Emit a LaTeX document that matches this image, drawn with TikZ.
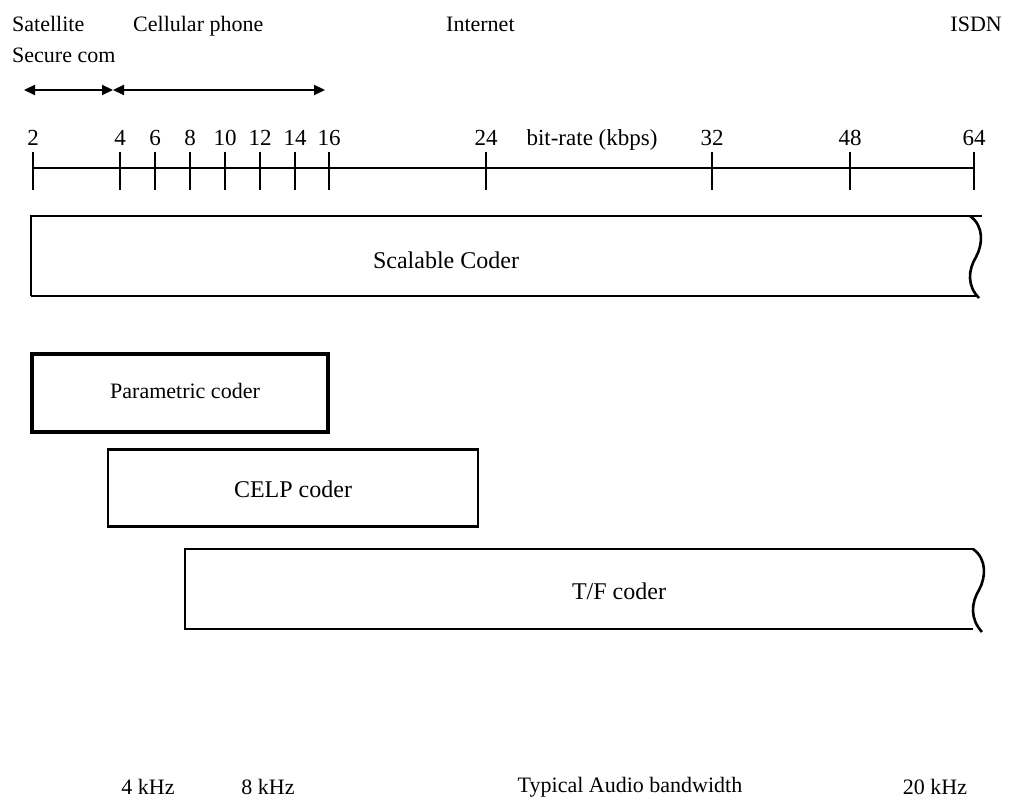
\documentclass[tikz,border=0pt]{standalone}
\usepackage{fontspec}
\setmainfont{Liberation Serif}
\usetikzlibrary{arrows.meta}
\begin{document}
\begin{tikzpicture}[x=1pt,y=-1pt,
  lbl/.style={inner sep=0pt,font=\fontsize{22}{26}\selectfont},
  numlbl/.style={inner sep=0pt,font=\fontsize{23}{27}\selectfont},
  boxtxt/.style={inner sep=0pt,font=\fontsize{24}{28}\selectfont},
  codebox/.style={draw,line width=2.6pt,inner sep=0pt},
  edge/.style={line width=2.6pt},
  axisline/.style={line width=2.8pt},
  tickline/.style={line width=2.6pt},
  rng/.style={line width=2.2pt,{Triangle[length=11pt,width=10pt]}-{Triangle[length=11pt,width=10pt]}}]
\useasboundingbox (0,0) rectangle (1009,799);
% top application labels
\node[lbl,anchor=base west] (sat) at (12,32) {Satellite};
\node[lbl,anchor=base west] (sec) at (12,63) {Secure com};
\node[lbl,anchor=base west] (cell) at (133,32) {Cellular phone};
\node[lbl,anchor=base west] (inet) at (446,32) {Internet};
\node[lbl,anchor=base east] (isdn) at (1002,32) {ISDN};
% ranges
\coordinate (r0) at (24,90);
\coordinate (r1) at (113,90);
\coordinate (r2) at (325,90);
\draw[rng] (r0) -- (r1);
\draw[rng] (r1) -- (r2);
% axis
\coordinate (a0) at (33,168);
\coordinate (a1) at (974,168);
\draw[axisline] (a0) -- (a1);
\foreach \v/\x in {2/33,4/120,6/155,8/190,10/225,12/260,14/295,16/329,24/486,32/712,48/850,64/974}{
  \coordinate (t\v) at (\x,168);
  \draw[tickline] ([yshift=16pt]t\v) -- ([yshift=-22pt]t\v);
  \node[numlbl,anchor=base] (n\v) at (\x,146) {\v};
}
\node[numlbl,anchor=base] (br) at (592,146) {bit-rate (kbps)};
% scalable coder
\draw[edge] (31,296) -- (31,216) -- (982,216);
\draw[edge] (31,296) -- (978,296);
\draw[edge] (970,216) .. controls (984,226) and (983,244) .. (976,257) .. controls (968,270) and (967,286) .. (979,298);
\node[boxtxt] (scal) at (446,260) {Scalable Coder};
% parametric
\node[codebox,line width=3.2pt,minimum width=296pt,minimum height=78pt] (par) at (180,393) {};
\node[boxtxt,font=\fontsize{22}{26}\selectfont] (part) at (185,391) {Parametric coder};
% CELP
\node[codebox,minimum width=370pt,minimum height=77pt] (celp) at (293,488) {};
\node[boxtxt] (celpt) at (293,489) {CELP coder};
% T/F
\draw[edge] (974,549) -- (185,549) -- (185,629) -- (973,629);
\draw[edge] (973,549) .. controls (987,559) and (986,577) .. (979,590) .. controls (971,603) and (970,619) .. (982,632);
\node[boxtxt] (tf) at (619,591) {T/F coder};
% bottom labels
\node[lbl,anchor=base] (k4) at (148,794) {4 kHz};
\node[lbl,anchor=base] (k8) at (268,794) {8 kHz};
\node[lbl,anchor=base] (tab) at (630,792) {Typical Audio bandwidth};
\node[lbl,anchor=base] (k20) at (935,794) {20 kHz};
\end{tikzpicture}
\end{document}
